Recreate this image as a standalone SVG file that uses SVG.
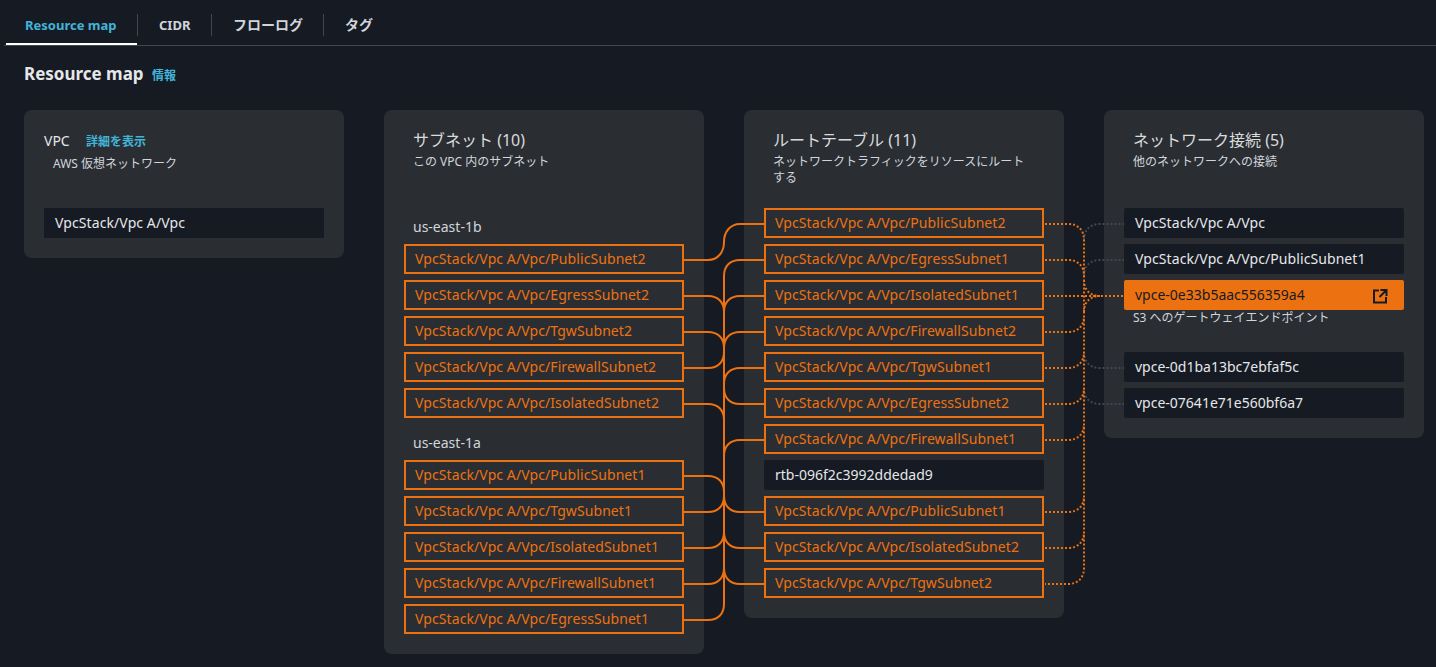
<svg xmlns="http://www.w3.org/2000/svg" width="1436" height="667" viewBox="0 0 1436 667">
<style>
text{font-family:"Noto Sans","Noto Sans CJK JP",sans-serif;fill:#d1d5db;font-size:14px}
.bg{fill:#161a23}
.panel{fill:#2a2e33}
.tab{font-weight:700;fill:#d1d5db}
.tl{font-size:13px}
.link{fill:#42b4d9;font-weight:700;font-size:12px}
.title{font-size:16px;fill:#d9dbdd}
.sub{font-size:12px;fill:#d1d5db}
.n rect{fill:#161a23}
.n text{fill:#e5e7e9}
.w{letter-spacing:.08px}
.o rect{fill:#2a2e33;stroke:#ec7211;stroke-width:2}
.o text{fill:#ec7211;letter-spacing:.08px}
.solid{fill:none;stroke:#ec7211;stroke-width:2}
.dot{fill:none;stroke:#ec7211;stroke-width:2;stroke-dasharray:2 2}
.gdot{fill:none;stroke:#414750;stroke-width:2;stroke-dasharray:2 2}
</style>
<rect class="bg" width="1436" height="667"/>
<g id="tabs">
<text x="25" y="30" class="tab tl" style="fill:#42b4d9">Resource map</text>
<text x="159" y="30" class="tab tl">CIDR</text>
<text x="233" y="30" class="tab">フローログ</text>
<text x="345" y="30" class="tab">タグ</text>
<path d="M137.500 14V36M211.500 14V36M323.500 14V36" stroke="#414750" fill="none"/>
<path d="M4 45.500H1436" stroke="#414750" fill="none"/>
<rect x="6" y="43" width="131" height="2" fill="#fff"/>
</g>
<text x="24" y="80" style="font-size:17px;font-weight:700;fill:#e5e7e9">Resource map</text>
<text x="152" y="80" class="link">情報</text>
<rect class="panel" x="24" y="110" width="320" height="148" rx="8"/>
<rect class="panel" x="384" y="110" width="320" height="544" rx="8"/>
<rect class="panel" x="744" y="110" width="320" height="508" rx="8"/>
<rect class="panel" x="1104" y="110" width="320" height="328" rx="8"/>
<g id="vpc-panel">
<text x="44" y="146" style="font-size:14px;fill:#e5e7e9">VPC</text>
<text x="86" y="146" class="link">詳細を表示</text>
<text x="53" y="168" class="sub">AWS 仮想ネットワーク</text>
</g>
<g id="subnet-head">
<text x="413" y="146" class="title">サブネット (10)</text>
<text x="413" y="166" class="sub">この VPC 内のサブネット</text>
<text x="413" y="232">us-east-1b</text>
<text x="413" y="448">us-east-1a</text>
</g>
<g id="rt-head">
<text x="773" y="146" class="title">ルートテーブル (11)</text>
<text x="773" y="166" class="sub">ネットワークトラフィックをリソースにルート</text>
<text x="773" y="182" class="sub">する</text>
</g>
<g id="net-head">
<text x="1133" y="146" class="title">ネットワーク接続 (5)</text>
<text x="1133" y="166" class="sub">他のネットワークへの接続</text>
</g>
<g id="connectors">
<path class="solid" d="M684 260H708C718 260 724 252 724 242C724 232 730 224 740 224H764"/>
<path class="solid" d="M764 260H740C730 260 724 266 724 276V604C724 614 718 620 708 620H684"/>
<path class="solid" d="M684 296H708C718 296 724 302 724 312M764 296H740C730 296 724 302 724 312"/>
<path class="solid" d="M684 332H708C718 332 724 338 724 348M764 332H740C730 332 724 338 724 348"/>
<path class="solid" d="M684 368H708C718 368 724 362 724 352"/>
<path class="solid" d="M684 404H708C718 404 724 410 724 420"/>
<path class="solid" d="M764 368H740C730 368 724 374 724 384M764 404H740C730 404 724 398 724 388"/>
<path class="solid" d="M764 440H740C730 440 724 446 724 456"/>
<path class="solid" d="M684 476H708C718 476 724 482 724 492"/>
<path class="solid" d="M684 512H708C718 512 724 506 724 496M764 512H740C730 512 724 506 724 496"/>
<path class="solid" d="M684 548H708C718 548 724 542 724 532M764 548H740C730 548 724 542 724 532"/>
<path class="solid" d="M684 584H708C718 584 724 578 724 568M764 584H740C730 584 724 578 724 568"/>
<path class="gdot" d="M1084 240C1084 230 1090 224 1100 224H1124"/>
<path class="gdot" d="M1084 276C1084 266 1090 260 1100 260H1124"/>
<path class="gdot" d="M1084 352C1084 362 1090 368 1100 368H1124"/>
<path class="gdot" d="M1084 388C1084 398 1090 404 1100 404H1124"/>
<path class="dot" d="M1045 224H1068C1078 224 1084 230 1084 240V568C1084 578 1078 584 1068 584H1045"/>
<path class="dot" d="M1045 260H1068C1078 260 1084 266 1084 276"/>
<path class="dot" d="M1045 296H1124"/>
<path class="dot" d="M1084 280C1084 290 1090 296 1100 296M1084 312C1084 302 1090 296 1100 296"/>
<path class="dot" d="M1045 332H1068C1078 332 1084 326 1084 316"/>
<path class="dot" d="M1045 368H1068C1078 368 1084 362 1084 352"/>
<path class="dot" d="M1045 404H1068C1078 404 1084 398 1084 388"/>
<path class="dot" d="M1045 440H1068C1078 440 1084 434 1084 424"/>
<path class="dot" d="M1045 512H1068C1078 512 1084 506 1084 496"/>
<path class="dot" d="M1045 548H1068C1078 548 1084 542 1084 532"/>
</g>
<g id="vpc-node" class="n"><rect x="44" y="208" width="280" height="30"/><text x="55" y="228" class="w">VpcStack/Vpc A/Vpc</text></g>
<g id="s1" class="o"><rect x="405" y="245" width="278" height="28"/><text x="415" y="264">VpcStack/Vpc A/Vpc/PublicSubnet2</text></g>
<g id="s2" class="o"><rect x="405" y="281" width="278" height="28"/><text x="415" y="300">VpcStack/Vpc A/Vpc/EgressSubnet2</text></g>
<g id="s3" class="o"><rect x="405" y="317" width="278" height="28"/><text x="415" y="336">VpcStack/Vpc A/Vpc/TgwSubnet2</text></g>
<g id="s4" class="o"><rect x="405" y="353" width="278" height="28"/><text x="415" y="372">VpcStack/Vpc A/Vpc/FirewallSubnet2</text></g>
<g id="s5" class="o"><rect x="405" y="389" width="278" height="28"/><text x="415" y="408">VpcStack/Vpc A/Vpc/IsolatedSubnet2</text></g>
<g id="s6" class="o"><rect x="405" y="461" width="278" height="28"/><text x="415" y="480">VpcStack/Vpc A/Vpc/PublicSubnet1</text></g>
<g id="s7" class="o"><rect x="405" y="497" width="278" height="28"/><text x="415" y="516">VpcStack/Vpc A/Vpc/TgwSubnet1</text></g>
<g id="s8" class="o"><rect x="405" y="533" width="278" height="28"/><text x="415" y="552">VpcStack/Vpc A/Vpc/IsolatedSubnet1</text></g>
<g id="s9" class="o"><rect x="405" y="569" width="278" height="28"/><text x="415" y="588">VpcStack/Vpc A/Vpc/FirewallSubnet1</text></g>
<g id="s10" class="o"><rect x="405" y="605" width="278" height="28"/><text x="415" y="624">VpcStack/Vpc A/Vpc/EgressSubnet1</text></g>
<g id="r1" class="o"><rect x="765" y="209" width="278" height="28"/><text x="775" y="228">VpcStack/Vpc A/Vpc/PublicSubnet2</text></g>
<g id="r2" class="o"><rect x="765" y="245" width="278" height="28"/><text x="775" y="264">VpcStack/Vpc A/Vpc/EgressSubnet1</text></g>
<g id="r3" class="o"><rect x="765" y="281" width="278" height="28"/><text x="775" y="300">VpcStack/Vpc A/Vpc/IsolatedSubnet1</text></g>
<g id="r4" class="o"><rect x="765" y="317" width="278" height="28"/><text x="775" y="336">VpcStack/Vpc A/Vpc/FirewallSubnet2</text></g>
<g id="r5" class="o"><rect x="765" y="353" width="278" height="28"/><text x="775" y="372">VpcStack/Vpc A/Vpc/TgwSubnet1</text></g>
<g id="r6" class="o"><rect x="765" y="389" width="278" height="28"/><text x="775" y="408">VpcStack/Vpc A/Vpc/EgressSubnet2</text></g>
<g id="r7" class="o"><rect x="765" y="425" width="278" height="28"/><text x="775" y="444">VpcStack/Vpc A/Vpc/FirewallSubnet1</text></g>
<g id="r8" class="n"><rect x="764" y="460" width="280" height="30" rx="2"/><text x="775" y="480">rtb-096f2c3992ddedad9</text></g>
<g id="r9" class="o"><rect x="765" y="497" width="278" height="28"/><text x="775" y="516">VpcStack/Vpc A/Vpc/PublicSubnet1</text></g>
<g id="r10" class="o"><rect x="765" y="533" width="278" height="28"/><text x="775" y="552">VpcStack/Vpc A/Vpc/IsolatedSubnet2</text></g>
<g id="r11" class="o"><rect x="765" y="569" width="278" height="28"/><text x="775" y="588">VpcStack/Vpc A/Vpc/TgwSubnet2</text></g>
<g id="c1" class="n"><rect x="1124" y="208" width="280" height="30" rx="2"/><text x="1135" y="228" class="w">VpcStack/Vpc A/Vpc</text></g>
<g id="c2" class="n"><rect x="1124" y="244" width="280" height="30" rx="2"/><text x="1135" y="264" class="w">VpcStack/Vpc A/Vpc/PublicSubnet1</text></g>
<g id="c3"><rect x="1124" y="280" width="280" height="30" rx="2" fill="#ec7211"/><text x="1135" y="300" style="fill:#161a23">vpce-0e33b5aac556359a4</text>
<path d="M1379 290.500H1374V302.500H1386V297M1380.500 290H1386.500V296M1386 290.500L1379.500 297" fill="none" stroke="#161a23" stroke-width="2"/></g>
<text x="1133" y="322" class="sub">S3 へのゲートウェイエンドポイント</text>
<g id="c4" class="n"><rect x="1124" y="352" width="280" height="30" rx="2"/><text x="1135" y="372">vpce-0d1ba13bc7ebfaf5c</text></g>
<g id="c5" class="n"><rect x="1124" y="388" width="280" height="30" rx="2"/><text x="1135" y="408">vpce-07641e71e560bf6a7</text></g>
</svg>
